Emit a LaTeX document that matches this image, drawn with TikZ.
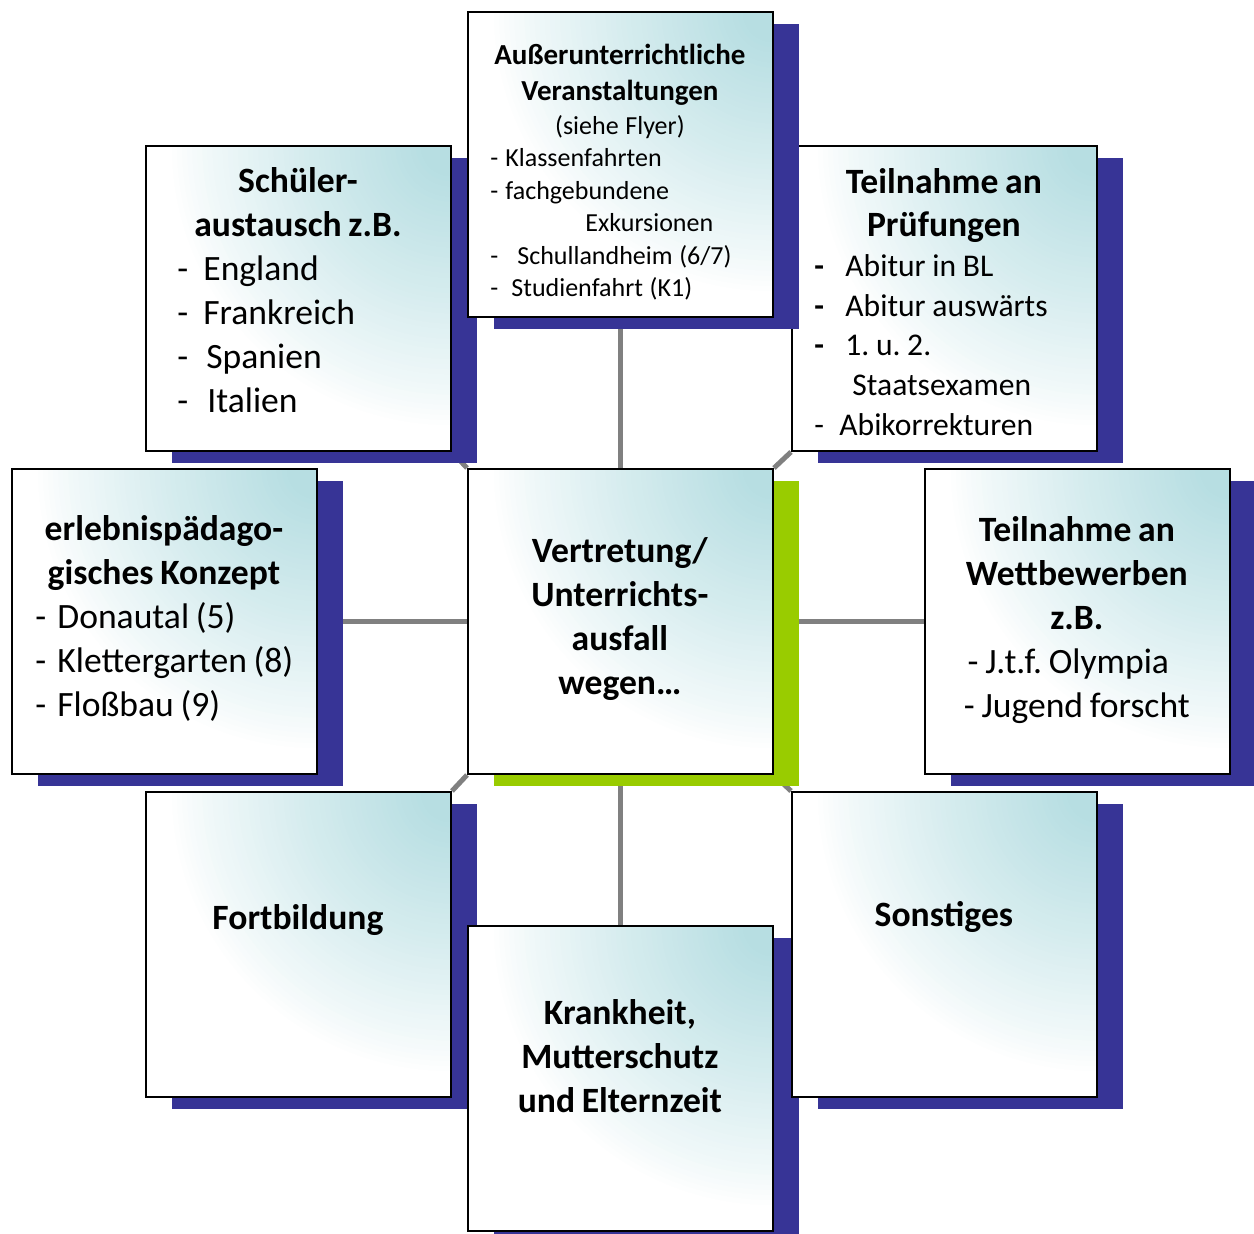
\documentclass[tikz,border=0pt]{standalone}
\usepackage{fontspec}
\setmainfont{Carlito}
\frenchspacing
\usetikzlibrary{calc}
\definecolor{boxteal}{RGB}{183,222,226}
\definecolor{shblue}{RGB}{55,52,150}
\definecolor{shgreen}{RGB}{153,204,0}
\definecolor{linegray}{RGB}{128,128,128}
\pgfdeclarelayer{bg}
\pgfsetlayers{bg,main}
\newcommand\fs[2]{\fontsize{#1}{#2}\selectfont}
\newcommand\li[3]{\hspace*{#1}\makebox[0pt][l]{-}\hspace*{\dimexpr#2-#1\relax}#3\par}
\newcommand\lb[3]{\hspace*{#1}\makebox[0pt][l]{\textbf{-}}\hspace*{\dimexpr#2-#1\relax}#3\par}
\tikzset{
  box/.style={draw=black, line width=1pt, fill=white, minimum width=152.5pt, minimum height=152.5pt,
    inner sep=0pt, anchor=north west,
    path picture={%
      \foreach \k in {0,...,50}{%
        \pgfmathsetmacro\rr{142-2.54*\k}%
        \pgfmathtruncatemacro\pp{100*(\k/50)^0.85}%
        \fill[boxteal!\pp!white] (path picture bounding box.north east) circle (\rr pt);}}},
  txt/.style={anchor=base west, inner sep=0pt, text width=152.5pt, align=left,
    execute at begin node={\setlength{\parindent}{0pt}}},
  conn/.style={draw=linegray, line width=2.5pt},
  shb/.style={fill=shblue},
  shg/.style={fill=shgreen},
}
\begin{document}
\begin{tikzpicture}[x=0.5pt,y=-0.5pt]
\useasboundingbox (0,0) rectangle (1254,1234);
% B
\fill[shb] (172,158) rectangle +(305,305);
\node[box] (B) at (145,145) {};
\node[txt] (Bt) at ($(B.north west)+(0,48)$) {\fs{17.8pt}{22pt}%
  {\centering\bfseries Schüler-\par austausch z.B.\par}%
  \li{16pt}{29pt}{England}\li{16pt}{29pt}{Frankreich}\li{16pt}{30.5pt}{Spanien}\li{16pt}{31pt}{Italien}};
% C
\fill[shb] (818,158) rectangle +(305,305);
\node[box] (C) at (791,145) {};
\node[txt] (Ct) at ($(C.north west)+(0,48.5)$) {%
  {\centering\bfseries\fs{17.8pt}{21.5pt}Teilnahme an\par Prüfungen\par}%
  \fs{15.8pt}{19.9pt}%
  \lb{11.5pt}{27pt}{Abitur in BL}\lb{11.5pt}{27pt}{Abitur auswärts}\lb{11.5pt}{27pt}{1. u. 2.}%
  \hspace*{30.5pt}Staatsexamen\par
  \li{11.5pt}{24pt}{Abikorrekturen}};
% A
\fill[shb] (494,24) rectangle +(305,305);
\node[box] (A) at (467,11) {};
\node[txt] (At) at ($(A.north west)+(0,54)$) {%
  {\centering\bfseries\fs{14.5pt}{18pt}Außerunterrichtliche\par Veranstaltungen\par}%
  \fs{13pt}{16.75pt}{\centering (siehe Flyer)\par}%
  \fs{13pt}{16.25pt}%
  \li{11.5pt}{19pt}{Klassenfahrten}\li{11.5pt}{19pt}{fachgebundene}%
  \hspace*{59pt}Exkursionen\par
  \li{11.5pt}{25pt}{Schullandheim (6/7)}\li{11.5pt}{22pt}{Studienfahrt (K1)}};
% D
\fill[shb] (38,481) rectangle +(305,305);
\node[box] (D) at (11,468) {};
\node[txt] (Dt) at ($(D.north west)+(0,73)$) {\fs{17.8pt}{22pt}%
  {\centering\bfseries erlebnispädago-\par gisches Konzept\par}%
  \li{12pt}{23pt}{Donautal (5)}\li{12pt}{23pt}{Klettergarten (8)}\li{12pt}{23pt}{Floßbau (9)}};
% E
\fill[shg] (494,481) rectangle +(305,305);
\node[box] (E) at (467,468) {};
\node[txt] (Et) at ($(E.north west)+(0,95)$) {\fs{17.8pt}{22pt}%
  {\centering\bfseries Vertretung/\par Unterrichts-\par ausfall\par wegen…\par}};
% F
\fill[shb] (951,481) rectangle +(305,305);
\node[box] (F) at (924,468) {};
\node[txt] (Ft) at ($(F.north west)+(0,74)$) {\fs{17.8pt}{22pt}%
  {\centering{\bfseries Teilnahme an\par Wettbewerben\par z.B.\par}%
  - J.t.f. Olympia\hspace*{8.5pt}\par - Jugend forscht\par}};
% G
\fill[shb] (172,804) rectangle +(305,305);
\node[box] (G) at (145,791) {};
\node[txt] (Gt) at ($(G.north west)+(0,139)$) {\fs{17.8pt}{22pt}%
  {\centering\bfseries Fortbildung\par}};
% I
\fill[shb] (494,938) rectangle +(305,305);
\node[box] (I) at (467,925) {};
\node[txt] (It) at ($(I.north west)+(0,100)$) {\fs{17.8pt}{22pt}%
  {\centering\bfseries Krankheit,\par Mutterschutz\par und Elternzeit\par}};
% H
\fill[shb] (818,804) rectangle +(305,305);
\node[box] (H) at (791,791) {};
\node[txt] (Ht) at ($(H.north west)+(0,136)$) {\fs{17.8pt}{22pt}%
  {\centering\bfseries Sonstiges\par}};
% connectors
\begin{pgfonlayer}{bg}
\draw[conn] (E.north) -- (A.south);
\draw[conn] (E.south) -- (I.north);
\draw[conn] (E.west) -- (D.east);
\draw[conn] (E.east) -- (F.west);
\draw[conn] (E.north west) -- (B.south east);
\draw[conn] (E.north east) -- (C.south west);
\draw[conn] (E.south west) -- (G.north east);
\draw[conn] (E.south east) -- (H.north west);
\end{pgfonlayer}
\end{tikzpicture}
\end{document}
